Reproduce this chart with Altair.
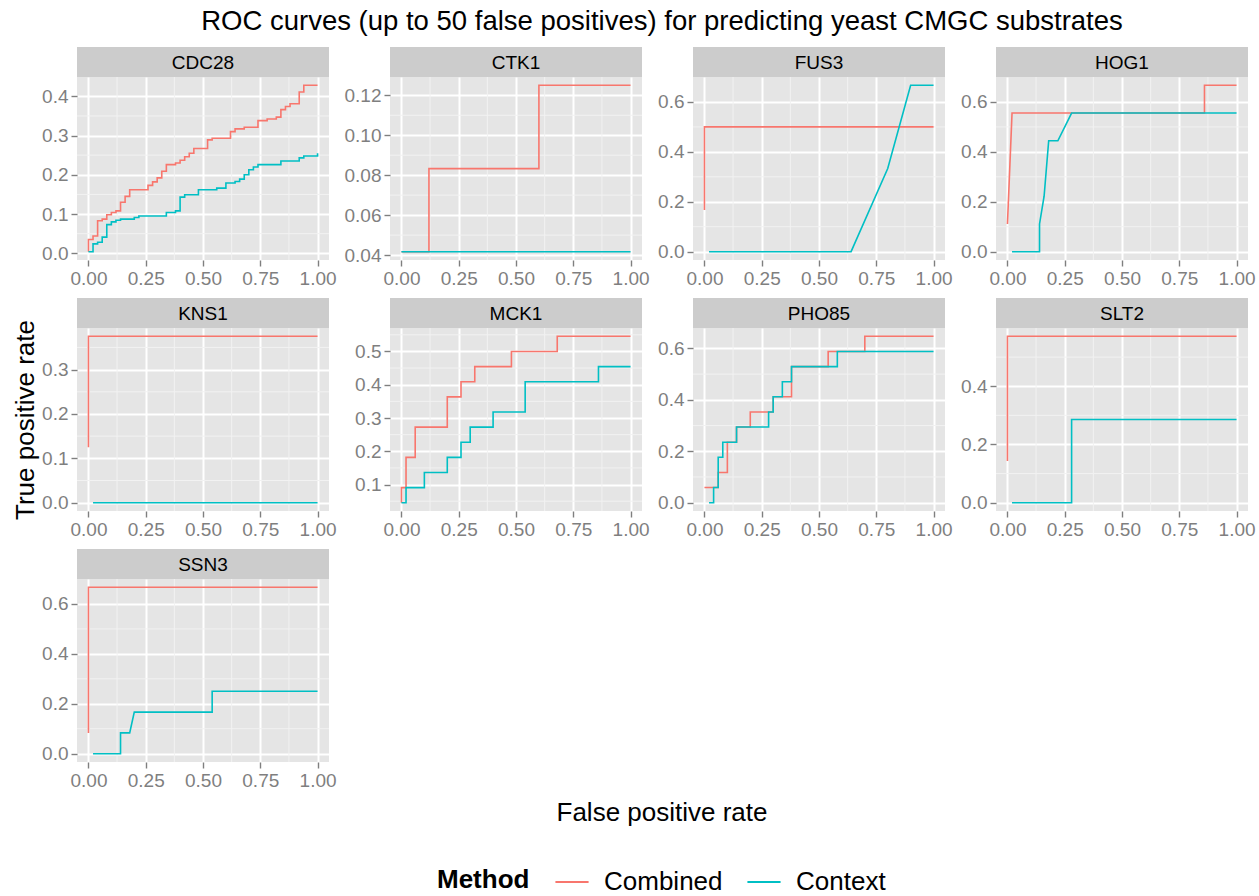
import altair as alt
import pandas as pd

FONT = "Liberation Sans"
METHODS = ["Combined", "Context"]
COLORS = ["#F8766D", "#00BFC4"]

X_TICKS = [0.0, 0.25, 0.5, 0.75, 1.0]
X_MINOR = [0.125, 0.375, 0.625, 0.875]

TITLE = "ROC curves (up to 50 false positives) for predicting yeast CMGC substrates"
X_TITLE = "False positive rate"
Y_TITLE = "True positive rate"

# ---- ROC points per kinase (false positive rate, true positive rate) ----
CDC28_COMB_FPR = [0, 0, 0.02, 0.02, 0.04, 0.04, 0.06, 0.06, 0.08, 0.08, 0.1, 0.1, 0.12, 0.12,
                  0.14, 0.14, 0.16, 0.16, 0.18, 0.18, 0.26, 0.26, 0.28, 0.28, 0.3, 0.3, 0.32, 0.32,
                  0.34, 0.34, 0.38, 0.38, 0.4, 0.4, 0.42, 0.42, 0.44, 0.44, 0.46, 0.46, 0.52, 0.52,
                  0.54, 0.54, 0.62, 0.62, 0.64, 0.64, 0.68, 0.68, 0.74, 0.74, 0.78, 0.78, 0.82, 0.82,
                  0.84, 0.84, 0.86, 0.86, 0.88, 0.88, 0.92, 0.92, 0.94, 0.94, 1.0]
CDC28_COMB_TPR = [0.004, 0.035, 0.035, 0.044, 0.044, 0.083, 0.083, 0.087, 0.087, 0.098, 0.098, 0.104,
                  0.104, 0.108, 0.108, 0.13, 0.13, 0.145, 0.145, 0.162, 0.162, 0.173, 0.173, 0.182,
                  0.182, 0.192, 0.192, 0.209, 0.209, 0.226, 0.226, 0.23, 0.23, 0.237, 0.237, 0.246,
                  0.246, 0.255, 0.255, 0.267, 0.267, 0.289, 0.289, 0.293, 0.293, 0.31, 0.31, 0.317,
                  0.317, 0.321, 0.321, 0.338, 0.338, 0.342, 0.342, 0.347, 0.347, 0.366, 0.366, 0.374,
                  0.374, 0.381, 0.381, 0.411, 0.411, 0.428, 0.428]
CDC28_CTX_FPR = [0, 0.02, 0.02, 0.04, 0.04, 0.06, 0.06, 0.08, 0.08, 0.1, 0.1, 0.12, 0.12, 0.14,
                 0.14, 0.2, 0.2, 0.22, 0.22, 0.34, 0.34, 0.38, 0.38, 0.4, 0.4, 0.42, 0.42, 0.48,
                 0.48, 0.56, 0.56, 0.6, 0.6, 0.64, 0.64, 0.66, 0.66, 0.68, 0.68, 0.7, 0.7, 0.72,
                 0.72, 0.74, 0.74, 0.84, 0.84, 0.92, 0.92, 0.94, 0.94, 1.0, 1.0]
CDC28_CTX_TPR = [0.004, 0.004, 0.024, 0.024, 0.028, 0.028, 0.041, 0.041, 0.073, 0.073, 0.08, 0.08,
                 0.084, 0.084, 0.087, 0.087, 0.091, 0.091, 0.095, 0.095, 0.104, 0.104, 0.108, 0.108,
                 0.143, 0.143, 0.149, 0.149, 0.162, 0.162, 0.166, 0.166, 0.179, 0.179, 0.183, 0.183,
                 0.189, 0.189, 0.2, 0.2, 0.213, 0.213, 0.22, 0.22, 0.226, 0.226, 0.235, 0.235, 0.243,
                 0.243, 0.248, 0.248, 0.255]

CTK1_COMB_FPR = [0, 0.12, 0.12, 0.6, 0.6, 1.0]
CTK1_COMB_TPR = [0.0417, 0.0417, 0.0833, 0.0833, 0.125, 0.125]
CTK1_CTX_FPR = [0, 1.0]
CTK1_CTX_TPR = [0.0417, 0.0417]

FUS3_COMB_FPR = [0, 0, 1.0]
FUS3_COMB_TPR = [0.1667, 0.5, 0.5]
FUS3_CTX_FPR = [0.02, 0.64, 0.8, 0.9, 1.0]
FUS3_CTX_TPR = [0, 0, 0.3333, 0.6667, 0.6667]

HOG1_COMB_FPR = [0, 0.02, 0.86, 0.86, 1.0]
HOG1_COMB_TPR = [0.1111, 0.5556, 0.5556, 0.6667, 0.6667]
HOG1_CTX_FPR = [0.02, 0.14, 0.14, 0.16, 0.18, 0.22, 0.28, 1.0]
HOG1_CTX_TPR = [0, 0, 0.1111, 0.2222, 0.4444, 0.4444, 0.5556, 0.5556]

KNS1_COMB_FPR = [0, 0, 1.0]
KNS1_COMB_TPR = [0.125, 0.375, 0.375]
KNS1_CTX_FPR = [0.02, 1.0]
KNS1_CTX_TPR = [0, 0]

MCK1_COMB_FPR = [0, 0, 0.02, 0.02, 0.06, 0.06, 0.2, 0.2, 0.26, 0.26, 0.32, 0.32, 0.48, 0.48,
                 0.68, 0.68, 1.0]
MCK1_COMB_TPR = [0.0455, 0.0909, 0.0909, 0.1818, 0.1818, 0.2727, 0.2727, 0.3636, 0.3636, 0.4091,
                 0.4091, 0.4545, 0.4545, 0.5, 0.5, 0.5455, 0.5455]
MCK1_CTX_FPR = [0, 0.02, 0.02, 0.1, 0.1, 0.2, 0.2, 0.26, 0.26, 0.3, 0.3, 0.4, 0.4, 0.54, 0.54,
                0.86, 0.86, 1.0]
MCK1_CTX_TPR = [0.0455, 0.0455, 0.0909, 0.0909, 0.1364, 0.1364, 0.1818, 0.1818, 0.2273, 0.2273,
                0.2727, 0.2727, 0.3182, 0.3182, 0.4091, 0.4091, 0.4545, 0.4545]

PHO85_COMB_FPR = [0, 0.06, 0.06, 0.1, 0.1, 0.14, 0.14, 0.2, 0.2, 0.3, 0.3, 0.38, 0.38, 0.54, 0.54,
                  0.7, 0.7, 1.0]
PHO85_COMB_TPR = [0.0588, 0.0588, 0.1176, 0.1176, 0.2353, 0.2353, 0.2941, 0.2941, 0.3529, 0.3529,
                  0.4118, 0.4118, 0.5294, 0.5294, 0.5882, 0.5882, 0.6471, 0.6471]
PHO85_CTX_FPR = [0.02, 0.04, 0.04, 0.06, 0.06, 0.08, 0.08, 0.14, 0.14, 0.28, 0.28, 0.3, 0.3, 0.34,
                 0.34, 0.38, 0.38, 0.58, 0.58, 1.0]
PHO85_CTX_TPR = [0, 0, 0.0588, 0.0588, 0.1765, 0.1765, 0.2353, 0.2353, 0.2941, 0.2941, 0.3529,
                 0.3529, 0.4118, 0.4118, 0.4706, 0.4706, 0.5294, 0.5294, 0.5882, 0.5882]

SLT2_COMB_FPR = [0, 0, 1.0]
SLT2_COMB_TPR = [0.1429, 0.5714, 0.5714]
SLT2_CTX_FPR = [0.02, 0.28, 0.28, 1.0]
SLT2_CTX_TPR = [0, 0, 0.2857, 0.2857]

SSN3_COMB_FPR = [0, 0, 1.0]
SSN3_COMB_TPR = [0.0833, 0.6667, 0.6667]
SSN3_CTX_FPR = [0.02, 0.14, 0.14, 0.18, 0.2, 0.54, 0.54, 1.0]
SSN3_CTX_TPR = [0, 0, 0.0833, 0.0833, 0.1667, 0.1667, 0.25, 0.25]

# y-axis breaks (major, minor) and label format per panel
Y_TENTHS = [0.0, 0.1, 0.2, 0.3, 0.4]
Y_TENTHS_MINOR = [0.05, 0.15, 0.25, 0.35]
Y_FIFTHS = [0.0, 0.2, 0.4, 0.6]
Y_FIFTHS_MINOR = [0.1, 0.3, 0.5]
CTK1_TICKS = [0.04, 0.06, 0.08, 0.10, 0.12]
CTK1_MINOR = [0.05, 0.07, 0.09, 0.11]
MCK1_TICKS = [0.1, 0.2, 0.3, 0.4, 0.5]
MCK1_MINOR = [0.05, 0.15, 0.25, 0.35, 0.45, 0.55]

PANELS = [
    ("CDC28", CDC28_COMB_FPR, CDC28_COMB_TPR, CDC28_CTX_FPR, CDC28_CTX_TPR, Y_TENTHS, Y_TENTHS_MINOR, ".1f"),
    ("CTK1", CTK1_COMB_FPR, CTK1_COMB_TPR, CTK1_CTX_FPR, CTK1_CTX_TPR, CTK1_TICKS, CTK1_MINOR, ".2f"),
    ("FUS3", FUS3_COMB_FPR, FUS3_COMB_TPR, FUS3_CTX_FPR, FUS3_CTX_TPR, Y_FIFTHS, Y_FIFTHS_MINOR, ".1f"),
    ("HOG1", HOG1_COMB_FPR, HOG1_COMB_TPR, HOG1_CTX_FPR, HOG1_CTX_TPR, Y_FIFTHS, Y_FIFTHS_MINOR, ".1f"),
    ("KNS1", KNS1_COMB_FPR, KNS1_COMB_TPR, KNS1_CTX_FPR, KNS1_CTX_TPR, Y_TENTHS[:4], Y_TENTHS_MINOR, ".1f"),
    ("MCK1", MCK1_COMB_FPR, MCK1_COMB_TPR, MCK1_CTX_FPR, MCK1_CTX_TPR, MCK1_TICKS, MCK1_MINOR, ".1f"),
    ("PHO85", PHO85_COMB_FPR, PHO85_COMB_TPR, PHO85_CTX_FPR, PHO85_CTX_TPR, Y_FIFTHS, Y_FIFTHS_MINOR, ".1f"),
    ("SLT2", SLT2_COMB_FPR, SLT2_COMB_TPR, SLT2_CTX_FPR, SLT2_CTX_TPR, Y_FIFTHS, Y_FIFTHS_MINOR, ".1f"),
    ("SSN3", SSN3_COMB_FPR, SSN3_COMB_TPR, SSN3_CTX_FPR, SSN3_CTX_TPR, Y_FIFTHS, Y_FIFTHS_MINOR, ".1f"),
]

W, H = 252, 183          # plot area of one facet
STRIP_H = 30             # grey facet label strip
SPAN = 1170              # width covered by the four facet columns
BG = "#E5E5E5"
MINOR_COLOR = "#F2F2F2"

X_SCALE = alt.Scale(domain=[-0.05, 1.05], nice=False, zero=False)
X_AXIS = alt.Axis(values=X_TICKS, format=".2f", title=None)


def make_panel(name, cx, cy, tx, ty, yticks, yminor, yfmt, ytitle=None):
    rows = []
    for method, xs, ys in (("Combined", cx, cy), ("Context", tx, ty)):
        for i, (x, y) in enumerate(zip(xs, ys)):
            rows.append({"fpr": x, "tpr": y, "Method": method, "step": i})
    df = pd.DataFrame(rows)
    lo, hi = df["tpr"].min(), df["tpr"].max()
    pad = (hi - lo) * 0.05
    ydom = [lo - pad, hi + pad]
    y_scale = alt.Scale(domain=ydom, nice=False, zero=False)
    y_axis = alt.Axis(values=yticks, format=yfmt, title=ytitle if ytitle else None)

    # light minor grid lines between the major breaks
    minor_x = alt.Chart(pd.DataFrame({"v": X_MINOR})).mark_rule(
        color=MINOR_COLOR, strokeWidth=1
    ).encode(x=alt.X("v:Q", scale=X_SCALE, axis=X_AXIS))
    minor_y = alt.Chart(pd.DataFrame({"v": [v for v in yminor if ydom[0] < v < ydom[1]]})).mark_rule(
        color=MINOR_COLOR, strokeWidth=1
    ).encode(y=alt.Y("v:Q", scale=y_scale, axis=y_axis))

    lines = alt.Chart(df).mark_line(strokeWidth=1.6).encode(
        x=alt.X("fpr:Q", scale=X_SCALE, axis=X_AXIS),
        y=alt.Y("tpr:Q", scale=y_scale, axis=y_axis),
        color=alt.Color("Method:N", scale=alt.Scale(domain=METHODS, range=COLORS),
                        legend=alt.Legend(title="Method")),
        order=alt.Order("step:Q"),
    )

    label = pd.DataFrame({"panel": [name]})
    strip_bg = alt.Chart(label).mark_rect(color="#CCCCCC").encode(
        x=alt.value(0), x2=alt.value(W), y=alt.value(-STRIP_H), y2=alt.value(0)
    )
    strip_txt = alt.Chart(label).mark_text(fontSize=19, color="black", font=FONT).encode(
        x=alt.value(W / 2), y=alt.value(-STRIP_H / 2 + 1), text="panel:N"
    )
    return alt.layer(minor_x, minor_y, lines, strip_bg, strip_txt).properties(
        width=W, height=H, view=alt.ViewBackground(fill=BG)
    )


panels = []
for p in PANELS:
    panels.append(make_panel(*p, ytitle=Y_TITLE if p[0] == "KNS1" else None))

grid = alt.concat(*panels, columns=4, spacing={"row": 10, "column": 7})

title_block = alt.Chart(pd.DataFrame({"t": [TITLE]})).mark_text(
    fontSize=27.5, color="black", font=FONT, baseline="alphabetic"
).encode(x=alt.value(SPAN / 2), y=alt.value(30), text="t:N").properties(width=SPAN, height=47)

x_title_block = alt.Chart(pd.DataFrame({"t": [X_TITLE]})).mark_text(
    fontSize=26, color="black", font=FONT, baseline="alphabetic"
).encode(x=alt.value(SPAN / 2), y=alt.value(31), text="t:N").properties(width=SPAN, height=38)

chart = alt.vconcat(title_block, grid, x_title_block, spacing=0).properties(
    padding={"left": 12, "top": 0, "right": 0, "bottom": 0},
).configure(font=FONT).configure_view(strokeWidth=0).configure_axis(
    labelFontSize=19, labelColor="#7F7F7F", labelFont=FONT, labelPadding=3, labelFlush=False,
    labelOverlap=False, tickColor="#7F7F7F", tickSize=6, tickWidth=1.4, domain=False,
    grid=True, gridColor="white", gridWidth=2,
    titleFontSize=26, titleFontWeight="normal", titleColor="black", titleFont=FONT, titlePadding=3,
).configure_legend(
    orient="none", legendX=360, legendY=864, direction="horizontal", titleOrient="left",
    titleFontSize=26, titleFontWeight="bold", titleColor="black", titleFont=FONT, titlePadding=24,
    labelFontSize=26, labelColor="black", labelFont=FONT, labelOffset=14,
    symbolType="stroke", symbolSize=1100, symbolStrokeWidth=2, columnPadding=20,
)

chart.save("out.html", embed_options={"renderer": "svg", "actions": False})
